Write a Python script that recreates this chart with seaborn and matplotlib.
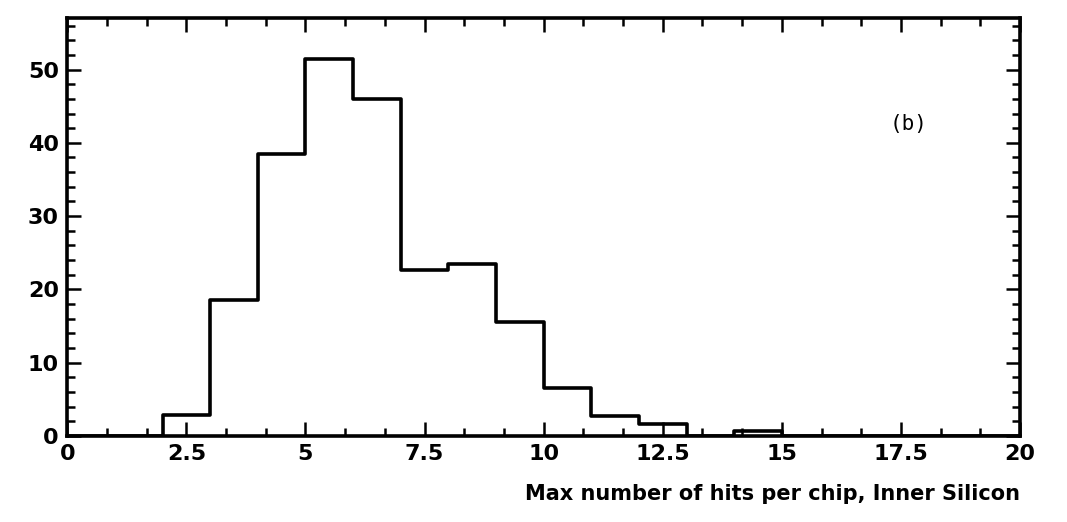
import numpy as np
import pandas as pd
import matplotlib
matplotlib.use("Agg")
import matplotlib.pyplot as plt
from matplotlib.ticker import MultipleLocator
import seaborn as sns

# Histogram contents: unit-width bins from 0 to 20
bin_edges = list(range(0, 21))
counts = [0, 0, 2.8, 18.6, 38.5, 51.5, 46.0, 22.6, 23.5, 15.5,
          6.6, 2.7, 1.6, 0, 0.7, 0, 0, 0, 0, 0]
x_ticks = [0, 2.5, 5, 7.5, 10, 12.5, 15, 17.5, 20]
x_tick_labels = ["0", "2.5", "5", "7.5", "10", "12.5", "15", "17.5", "20"]
y_ticks = [0, 10, 20, 30, 40, 50]
x_label = "Max number of hits per chip, Inner Silicon"
panel_tag = "(b)"

sns.set_style("ticks")
plt.rcParams["font.family"] = ["DejaVu Sans"]
plt.rcParams["text.color"] = "black"
plt.rcParams["xtick.labelcolor"] = "black"
plt.rcParams["ytick.labelcolor"] = "black"
plt.rcParams["axes.labelcolor"] = "black"

df = pd.DataFrame({
    "hits": [e + 0.5 for e in bin_edges[:-1]],
    "count": counts,
})

fig = plt.figure(figsize=(10.67, 5.22), dpi=100)
ax = fig.add_axes([0.063, 0.165, 0.893, 0.80])

sns.histplot(data=df, x="hits", weights="count", bins=bin_edges,
             element="step", fill=False, color="black", linewidth=2.6, ax=ax)

ax.set_xlim(0, 20)
ax.set_ylim(0, 57)

ax.xaxis.set_major_locator(MultipleLocator(2.5))
ax.xaxis.set_minor_locator(MultipleLocator(2.5 / 3))
ax.yaxis.set_major_locator(MultipleLocator(10))
ax.yaxis.set_minor_locator(MultipleLocator(2))
ax.set_xticks(x_ticks)
ax.set_xticklabels(x_tick_labels)
ax.set_yticks(y_ticks)

ax.tick_params(which="both", direction="in", top=True, right=True,
               width=1.8, color="black")
ax.tick_params(which="major", length=10, labelsize=16, pad=6)
ax.tick_params(which="minor", length=5.5)
for lbl in ax.get_xticklabels() + ax.get_yticklabels():
    lbl.set_fontweight("heavy")

for side in ["left", "right", "top", "bottom"]:
    ax.spines[side].set_visible(True)
    ax.spines[side].set_linewidth(2.6)
    ax.spines[side].set_color("black")

ax.set_ylabel("")
ax.set_xlabel(x_label, fontsize=15, fontweight="bold", loc="right",
              labelpad=14)

ax.text(0.863, 0.748, panel_tag, transform=ax.transAxes, fontsize=15,
        family="DejaVu Sans Mono", ha="left", va="center")

fig.savefig("out.png", dpi=100, facecolor="white")
